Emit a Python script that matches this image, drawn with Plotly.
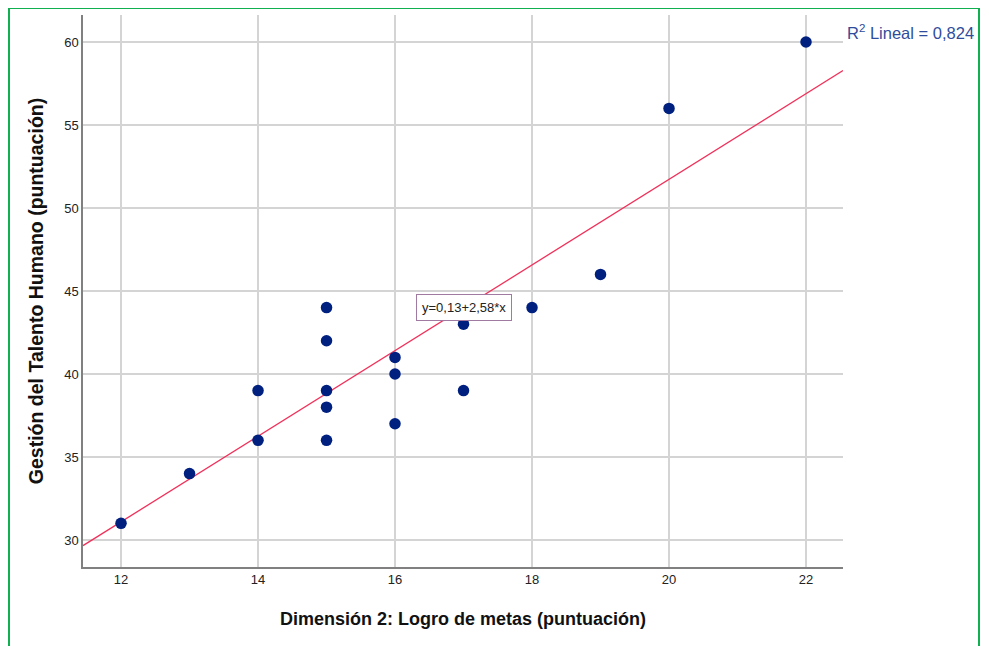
import plotly.graph_objects as go
import numpy as np

# Data
x_vals = [12, 13, 14, 14, 15, 15, 15, 15, 15, 16, 16, 16, 17, 17, 18, 19, 20, 22]
y_vals = [31, 34, 39, 36, 44, 42, 39, 38, 36, 41, 40, 37, 43, 39, 44, 46, 56, 60]
intercept = 0.13
slope = 2.58
r2_text = "R<sup>2</sup> Lineal = 0,824"
eq_text = "y=0,13+2,58*x"
x_ticks = [12, 14, 16, 18, 20, 22]
y_ticks = [30, 35, 40, 45, 50, 55, 60]

x_range = [11.445, 22.54]
y_range = [28.37, 61.63]

OFF = 8  # page body margin
W, H = 989 - OFF, 646 - OFF
ml, mr, mt, mb = 83 - OFF, 146, 15 - OFF, 79
pw, ph = W - ml - mr, H - mt - mb

fit_x = np.array(x_range)
fit_y = intercept + slope * fit_x

fig = go.Figure()
fig.add_trace(go.Scatter(x=fit_x, y=fit_y, mode="lines",
                         line=dict(color="#f0305a", width=1.3),
                         hoverinfo="skip", showlegend=False))
fig.add_trace(go.Scatter(x=x_vals, y=y_vals, mode="markers",
                         marker=dict(color="#002080", size=11.5),
                         showlegend=False))

# convert page pixel -> paper coords
def px2paper_x(p):
    return (p - OFF - ml) / pw

def px2paper_y(p):
    return 1 - (p - OFF - mt) / ph

RB = 979
border = dict(color="#10b050", width=2)
fig.add_shape(type="line", xref="paper", yref="paper",
              x0=px2paper_x(9), x1=px2paper_x(RB), y0=px2paper_y(8), y1=px2paper_y(8),
              line=border, layer="above")
fig.add_shape(type="line", xref="paper", yref="paper",
              x0=px2paper_x(9), x1=px2paper_x(9), y0=px2paper_y(8), y1=px2paper_y(660),
              line=border, layer="above")
fig.add_shape(type="line", xref="paper", yref="paper",
              x0=px2paper_x(RB), x1=px2paper_x(RB), y0=px2paper_y(8), y1=px2paper_y(660),
              line=border, layer="above")

fig.add_annotation(x=16.31, y=44.0, xref="x", yref="y", text=eq_text,
                   showarrow=False, xanchor="left", yanchor="middle",
                   font=dict(family="Liberation Sans, Arial", size=13, color="#222222"),
                   bgcolor="white", bordercolor="#a07aa0", borderwidth=1, borderpad=5)

fig.add_annotation(x=px2paper_x(845), y=px2paper_y(32), xref="paper", yref="paper",
                   text=r2_text, showarrow=False, xanchor="left", yanchor="middle",
                   font=dict(family="Liberation Sans, Arial", size=16.5, color="#2f4c9c"))

axis_common = dict(showgrid=True, gridcolor="#d4d4d4", gridwidth=1.5,
                   showline=True, linecolor="#808080", linewidth=1.5,
                   zeroline=False, ticks="",
                   tickfont=dict(family="Liberation Sans, Arial", size=13, color="#222222"))

fig.update_xaxes(range=x_range, tickvals=x_ticks,
                 title_text="<b>Dimensión 2: Logro de metas (puntuación)</b>",
                 title_font=dict(family="Liberation Sans, Arial", size=18, color="#111111"),
                 title_standoff=26, **axis_common)
fig.update_yaxes(range=y_range, tickvals=y_ticks,
                 title_text="<b>Gestión del Talento Humano (puntuación)</b>",
                 title_font=dict(family="Liberation Sans, Arial", size=19.5, color="#111111"),
                 title_standoff=15, **axis_common)

fig.update_layout(width=W, height=H, margin=dict(l=ml, r=mr, t=mt, b=mb, autoexpand=False),
                  paper_bgcolor="white", plot_bgcolor="white")

fig.write_html("out.html")
